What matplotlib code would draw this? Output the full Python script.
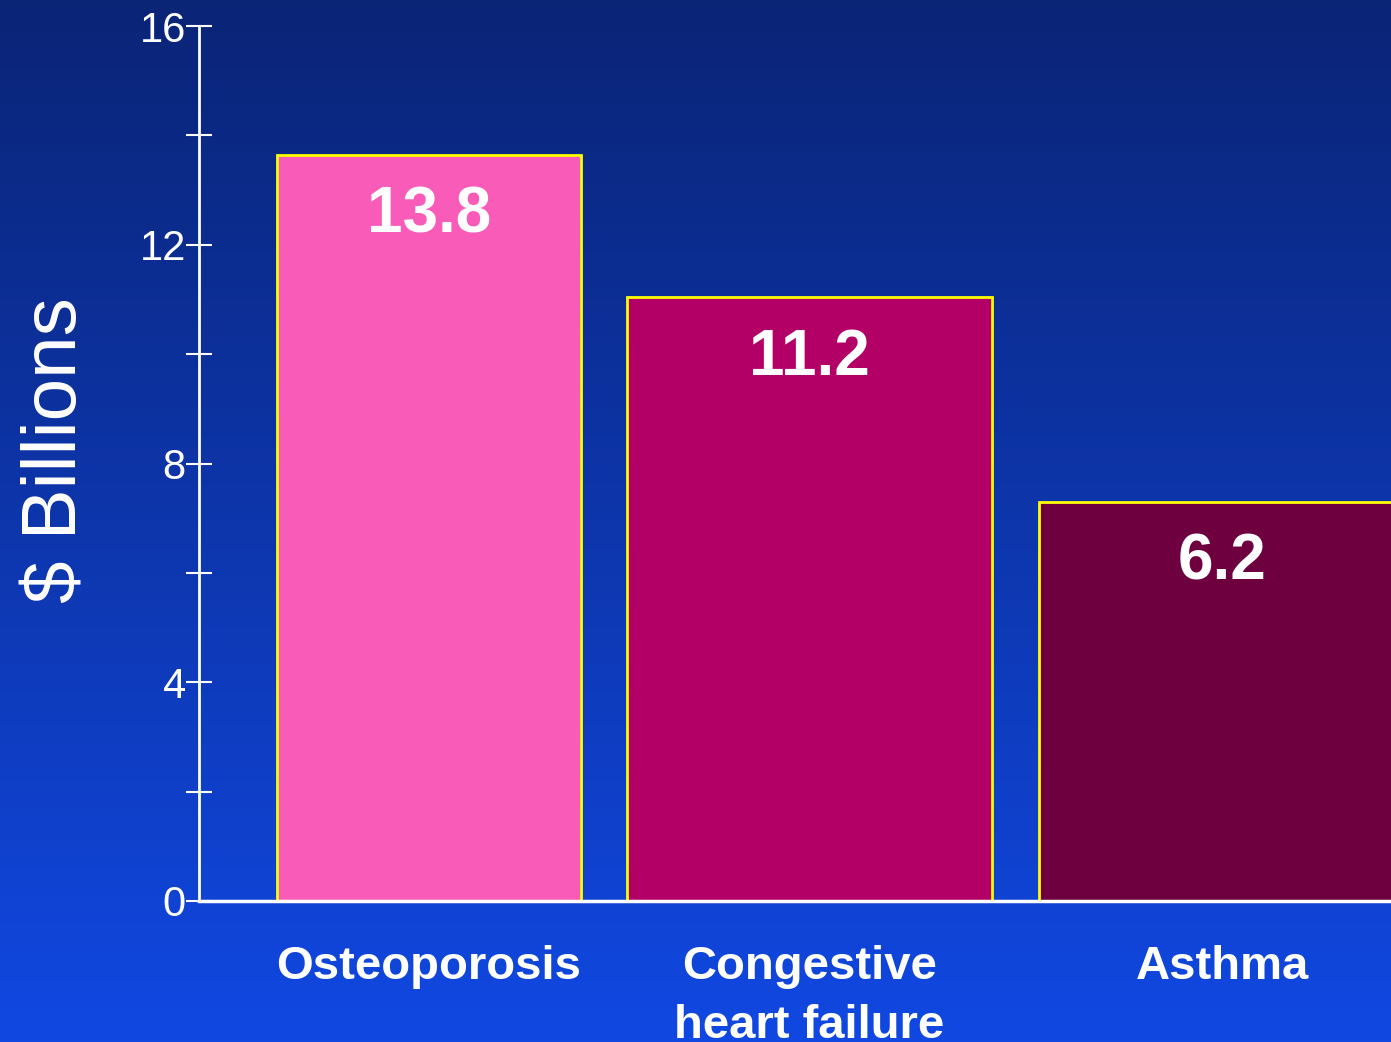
import numpy as np
import matplotlib.pyplot as plt

categories = ["Osteoporosis", "Congestive\nheart failure", "Asthma"]
bar_heights = [13.65, 11.05, 7.3]       # heights as drawn in the picture
value_labels = ["13.8", "11.2", "6.2"]   # numbers printed on the bars
positions = [0.0, 1.0, 2.084]
widths = [0.80, 0.96, 0.96]
colors = ["#F95CB8", "#B30066", "#6E0040"]
yticks = [0, 2, 4, 6, 8, 10, 12, 14, 16]
ytick_labels = ["0", "", "4", "", "8", "", "12", "", "16"]

plt.rcParams['font.family'] = ['Liberation Sans', 'DejaVu Sans']

fig = plt.figure(figsize=(13.91, 10.42), dpi=100)

# gradient background
bg = fig.add_axes([0, 0, 1, 1], zorder=-1)
grad = np.linspace(0, 1, 256).reshape(-1, 1)
top = np.array([10, 36, 118]) / 255
bottom = np.array([17, 72, 226]) / 255
img = top + (bottom - top) * grad[:, :, None]
bg.imshow(img, aspect='auto', extent=[0, 1, 0, 1], origin='upper')
bg.axis('off')

ax = fig.add_axes([199 / 1391, 1 - 901 / 1042, 1 - 199 / 1391, (901 - 26) / 1042])
ax.patch.set_alpha(0)

bars = ax.bar(positions, bar_heights, width=widths, color=colors,
              edgecolor='#FFFF00', linewidth=2, zorder=2)

for b, lab in zip(bars, value_labels):
    ax.annotate(lab, (b.get_x() + b.get_width() / 2, b.get_height()),
                xytext=(0, -44), textcoords='offset points',
                ha='center', va='center', color='white',
                fontsize=46, fontweight='bold')

ax.set_xlim(-0.604, 2.528)
ax.set_ylim(0, 16)
ax.set_yticks(yticks)
ax.set_yticklabels(ytick_labels)
ax.tick_params(axis='y', direction='inout', length=19, width=1.5,
               colors='white', labelsize=30, pad=0)
ax.set_xticks(positions)
ax.set_xticklabels(categories, fontsize=34, fontweight='bold', color='white',
                   linespacing=1.42)
ax.tick_params(axis='x', length=0, pad=32)

for s in ['top', 'right']:
    ax.spines[s].set_visible(False)
ax.spines['left'].set_color('white')
ax.spines['bottom'].set_color('white')
ax.spines['left'].set_linewidth(2)
ax.spines['bottom'].set_linewidth(2.5)
ax.spines['bottom'].set_zorder(3)

ax.set_ylabel("$ Billions", fontsize=55, color='white', labelpad=34)
ax.yaxis.label.set_y(0.515)

fig.savefig("out.png", dpi=100)
